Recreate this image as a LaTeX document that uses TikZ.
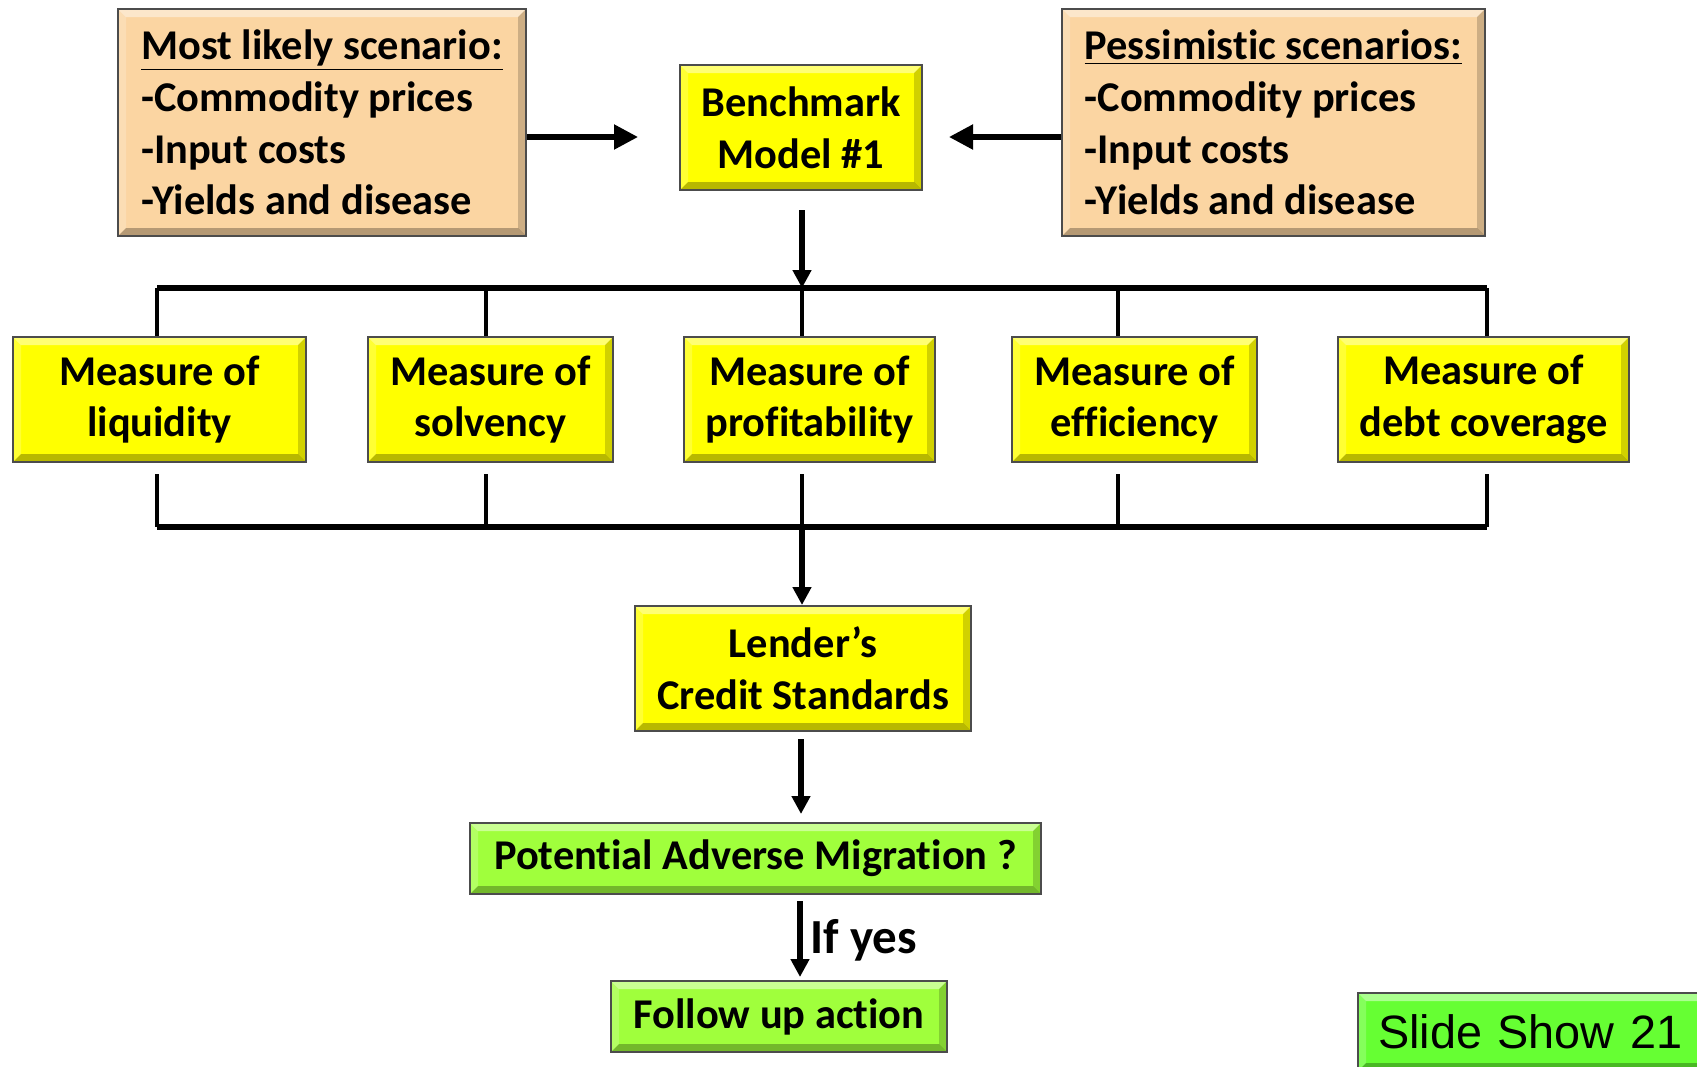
\documentclass[tikz,border=0pt]{standalone}
\usepackage{fontspec}
\setmainfont{Carlito}[Ligatures={NoCommon}]
\newfontfamily\arialfont{Liberation Sans}
\usetikzlibrary{arrows.meta}

\definecolor{peach}{RGB}{251,213,162}
\definecolor{boxyellow}{RGB}{255,255,0}
\definecolor{limegreen}{RGB}{160,255,60}
\definecolor{slidegreen}{RGB}{102,255,51}

\tikzset{
  % raised bevel: light top/left faces, dark bottom/right faces
  bevel/.style={path picture={
    \coordinate (bvSW) at (path picture bounding box.south west);
    \coordinate (bvNE) at (path picture bounding box.north east);
    \coordinate (bvNW) at (path picture bounding box.north west);
    \coordinate (bvSE) at (path picture bounding box.south east);
    \fill[white,opacity=0.45] (bvNW) -- (bvNE) -- ([shift={(-4pt,-4pt)}]bvNE) -- ([shift={(4pt,-4pt)}]bvNW) -- cycle;
    \fill[white,opacity=0.2] (bvNW) -- (bvSW) -- ([shift={(4pt,4pt)}]bvSW) -- ([shift={(4pt,-4pt)}]bvNW) -- cycle;
    \fill[black,opacity=0.28] (bvSW) -- (bvSE) -- ([shift={(-4pt,4pt)}]bvSE) -- ([shift={(4pt,4pt)}]bvSW) -- cycle;
    \fill[black,opacity=0.18] (bvNE) -- (bvSE) -- ([shift={(-4pt,4pt)}]bvSE) -- ([shift={(-4pt,-4pt)}]bvNE) -- cycle;
  }},
  boxbase/.style={draw=black!70, line width=1pt, inner sep=0pt, bevel,
    font=\bfseries\fontsize{21.2}{25.8}\selectfont},
  scenario/.style={boxbase, fill=peach, align=left, minimum height=113.5pt},
  ybox/.style={boxbase, fill=boxyellow, align=center, minimum height=62.5pt},
  gbox/.style={boxbase, fill=limegreen, align=center, minimum height=35.5pt},
  slidebox/.style={draw=black!70, line width=1pt, fill=slidegreen, bevel,
    inner ysep=0pt, inner xsep=10pt, align=left,
    font=\arialfont\fontsize{23.4}{28}\selectfont},
  harr/.style={line width=2.6pt, -{Triangle[length=12pt,width=12pt]}},
  varr/.style={line width=2.6pt, -{Triangle[length=9pt,width=9pt]}},
  bus/.style={line width=2.8pt},
  drop/.style={line width=1.6pt},
}

\begin{document}
\begin{tikzpicture}[x=0.5pt,y=-0.5pt]
\useasboundingbox (0,0) rectangle (1697,1066);

% scenario inputs and benchmark
\node[scenario, minimum width=204pt] (ml) at (322,122.5)
  {\underline{Most likely scenario:}\\-Commodity prices\\-Input costs\\-Yields and disease};
\node[scenario, minimum width=211.5pt] (pes) at (1273.5,122.5)
  {\underline{Pessimistic scenarios:}\\-Commodity prices\\-Input costs\\-Yields and disease};
\node[ybox, minimum width=121pt] (bm) at (801,127.5) {Benchmark\\Model \#1};

% financial measures
\node[ybox, minimum width=146.5pt] (liq) at (159.5,399.5) {Measure of\\liquidity};
\node[ybox, minimum width=122.5pt] (sol) at (490.5,399.5) {Measure of\\solvency};
\node[ybox, minimum width=125.5pt] (pro) at (809.5,399.5) {Measure of\\profitability};
\node[ybox, minimum width=122.5pt] (eff) at (1134.5,399.5) {Measure of\\efficiency};
\node[ybox, minimum width=145.5pt] (dbt) at (1483.5,399.5) {Measure of\\debt coverage};

% decision chain
\node[ybox, minimum width=168pt] (len) at (803,668.5) {Lender’s\\Credit Standards};
\node[gbox, minimum width=285.5pt] (pot) at (755.5,858.5) {Potential Adverse Migration ?};
\node[gbox, minimum width=168pt] (fol) at (779,1016.5) {Follow up action};

\node[slidebox, anchor=north west, minimum height=39pt, text width=157pt] (ss) at (1357,992) {Slide Show 21};

% helper points on the two distribution bars
\coordinate (aY) at (0,137);
\coordinate (t1) at (157,288);  \coordinate (t2) at (486,288);
\coordinate (t3) at (802,288);  \coordinate (t4) at (1118,288);
\coordinate (t5) at (1487,288);
\coordinate (b1) at (157,527);  \coordinate (b2) at (486,527);
\coordinate (b3) at (802,527);  \coordinate (b4) at (1118,527);
\coordinate (b5) at (1487,527);
\coordinate (c1) at (801,0);    \coordinate (c2) at (800,0);
\coordinate (yy) at (810,940);

% scenarios feed the benchmark
\draw[harr, shorten >=20.5pt] (ml.east |- aY) -- (bm.west |- aY);
\draw[harr, shorten >=13pt] (pes.west |- aY) -- (bm.east |- aY);
\draw[varr, shorten <=9.5pt] (t3 |- bm.south) -- (t3);

% upper bar and drops
\draw[bus] (t1) -- (t5);
\draw[drop] (t1) -- (t1 |- liq.north);
\draw[drop] (t2) -- (t2 |- sol.north);
\draw[drop] (t3) -- (t3 |- pro.north);
\draw[drop] (t4) -- (t4 |- eff.north);
\draw[drop] (t5) -- (t5 |- dbt.north);

% lower bar and drops
\draw[drop, shorten <=5.5pt] (b1 |- liq.south) -- (b1);
\draw[drop, shorten <=5.5pt] (b2 |- sol.south) -- (b2);
\draw[drop, shorten <=5.5pt] (b3 |- pro.south) -- (b3);
\draw[drop, shorten <=5.5pt] (b4 |- eff.south) -- (b4);
\draw[drop, shorten <=5.5pt] (b5 |- dbt.south) -- (b5);
\draw[bus] (b1) -- (b5);

% down the decision chain
\draw[varr] (b3) -- (b3 |- len.north);
\draw[varr, shorten <=3.5pt, shorten >=4pt] (c1 |- len.south) -- (c1 |- pot.north);
\draw[varr, shorten <=3pt, shorten >=1.5pt] (c2 |- pot.south) -- (c2 |- fol.north);
\node[anchor=west, inner sep=0pt, font=\bfseries\fontsize{24.5}{29}\selectfont] (yes) at (yy) {If yes};

\end{tikzpicture}
\end{document}
